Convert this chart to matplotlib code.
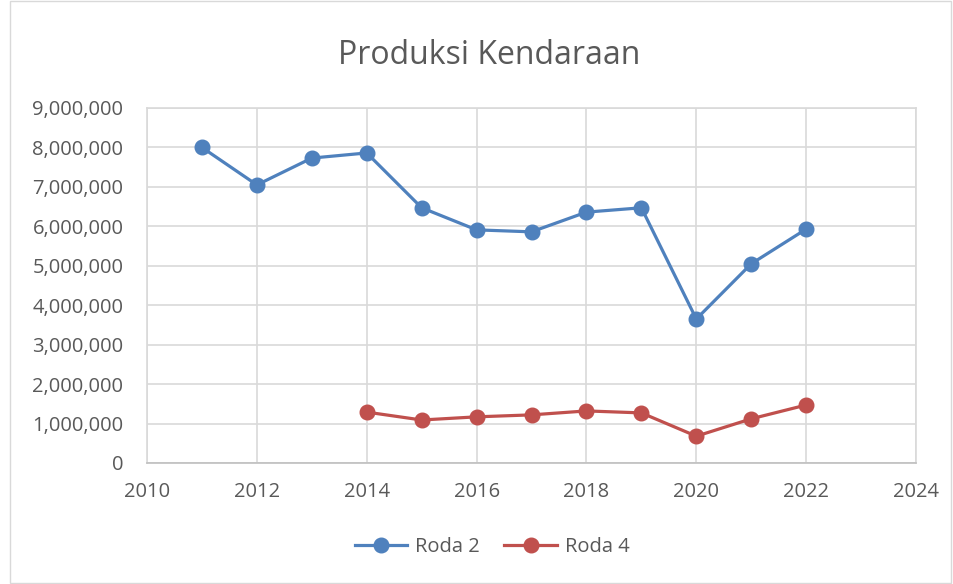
import matplotlib.pyplot as plt
from matplotlib.ticker import FuncFormatter
from matplotlib.patches import Rectangle

plt.rcParams['font.family'] = ['Open Sans', 'DejaVu Sans']

# data
years_r2 = [2011, 2012, 2013, 2014, 2015, 2016, 2017, 2018, 2019, 2020, 2021, 2022]
roda2 = [8000000, 7050000, 7730000, 7860000, 6470000, 5910000, 5860000, 6360000, 6470000, 3650000, 5050000, 5930000]
years_r4 = [2014, 2015, 2016, 2017, 2018, 2019, 2020, 2021, 2022]
roda4 = [1290000, 1090000, 1170000, 1220000, 1320000, 1270000, 680000, 1120000, 1470000]

txt = '#595959'
grid = '#d9d9d9'

fig = plt.figure(figsize=(9.54, 5.84), dpi=100)
ax = fig.add_axes([0.1541, 0.2072, 0.8061, 0.6079])

# outer chart border
fig.patches.append(Rectangle((0.011, 0.002), 0.986, 0.996, transform=fig.transFigure,
                             fill=False, edgecolor=grid, lw=1))

ax.plot(years_r2, roda2, color='#4F81BD', lw=2.3, marker='o', ms=10.5, label='Roda 2', zorder=3)
ax.plot(years_r4, roda4, color='#C0504D', lw=2.3, marker='o', ms=10.5, label='Roda 4', zorder=3)

ax.set_xlim(2010, 2024)
ax.set_ylim(0, 9000000)
ax.set_xticks(range(2010, 2025, 2))
ax.set_yticks(range(0, 9000001, 1000000))
ax.yaxis.set_major_formatter(FuncFormatter(lambda v, p: f'{int(v):,}'))
ax.grid(True, color=grid, lw=1.2)
ax.set_axisbelow(True)
for s in ['top', 'right', 'left']:
    ax.spines[s].set_color(grid)
    ax.spines[s].set_linewidth(1.2)
ax.spines['bottom'].set_color('#bfbfbf')
ax.spines['bottom'].set_linewidth(1.2)
ax.tick_params(length=0, labelsize=14.5, colors=txt)
ax.tick_params(axis='y', pad=17)
ax.tick_params(axis='x', pad=14)

fig.text(0.513, 0.905, 'Produksi Kendaraan', ha='center', va='center', fontsize=23, color=txt)

fig.legend(loc='center', bbox_to_anchor=(0.516, 0.063), ncol=2, frameon=False,
           fontsize=14.5, labelcolor=txt, handlelength=2.6, columnspacing=1.2, handletextpad=0.4)

fig.savefig('out.png', dpi=100)
